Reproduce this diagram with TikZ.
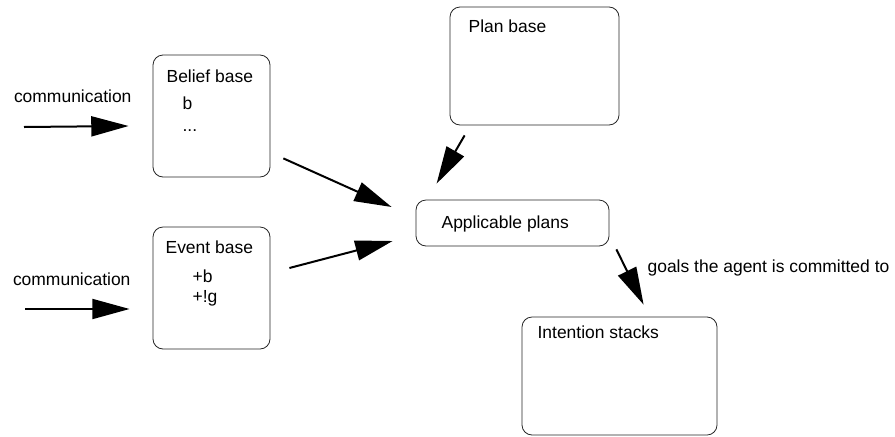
\documentclass[tikz,border=0pt]{standalone}
\usepackage{fontspec}
\setmainfont{Liberation Sans}
\usetikzlibrary{arrows.meta}
\tikzset{%
  >={Triangle[width=15pt,length=28pt]},
  % Specifications for style of nodes:
            base/.style = {rectangle, rounded corners=7.5pt, draw=black!85,
                           line width=0.6pt, inner sep=0pt},
           store/.style = {base},
           txt/.style = {anchor=base west, inner sep=0pt, outer sep=0pt,
                         font=\fontsize{13.1}{15}\selectfont},
           flow/.style = {->, line width=1.5pt},
}
\begin{document}
\begin{tikzpicture}[x=0.75pt, y=-0.75pt]
  \useasboundingbox (0,0) rectangle (895,436);
  % Specification of nodes (position, size)

  \node (belief)		[store, minimum width=87.75pt, minimum height=91.5pt] at (211.5,116) {};
  \node (event)			[store, minimum width=87.75pt, minimum height=91.5pt] at (211.5,288) {};
  \node (plan)			[store, minimum width=126.75pt, minimum height=88.5pt] at (534.5,66) {};
  \node (applic)		[store, minimum width=144.75pt, minimum height=34.5pt] at (512.5,223) {};
  \node (intention)		[store, minimum width=146.25pt, minimum height=88.5pt] at (619.5,376) {};

  % texts inside the boxes
  \node (belief t)		[txt] at ([shift={(14,28)}]belief.north west) {Belief base};
  \node (belief b)		[txt] at ([shift={(30,55)}]belief.north west) {b};
  \node (belief d)		[txt] at ([shift={(30,77)}]belief.north west) {...};
  \node (event t)		[txt] at ([shift={(13,27)}]event.north west) {Event base};
  \node (event b)		[txt] at ([shift={(40,56)}]event.north west) {+b};
  \node (event g)		[txt] at ([shift={(40,76)}]event.north west) {+!g};
  \node (plan t)		[txt] at ([shift={(19,26)}]plan.north west) {Plan base};
  \node (applic t)		[txt] at ([shift={(26,29)}]applic.north west) {Applicable plans};
  \node (intention t)	[txt] at ([shift={(16,22)}]intention.north west) {Intention stacks};

  % incoming communication
  \coordinate (in1)		at (24,127);
  \coordinate (in2)		at (25,309);
  \node (comm1)			[txt] at (14,102) {communication};
  \node (comm2)			[txt] at (13,285) {communication};

  \draw[flow]			(in1) -- ([shift={(-24,10)}]belief.west);
  \draw[flow]			(in2) -- ([shift={(-23,21)}]event.west);
  \draw[flow]			([shift={(13,-19)}]belief.south east) -- ([shift={(-24,-16)}]applic.west);
  \draw[flow]			([shift={(19,-20)}]event.east) -- ([shift={(-23,18)}]applic.west);
  \draw[flow]			([shift={(15,10)}]plan.south west) -- ([shift={(21,-16)}]applic.north west);
  \draw[flow]			([shift={(7,3)}]applic.south east) -- ([shift={(122,-12)}]intention.north west);
  \node (goals)			[txt] at ([shift={(126,-44)}]intention.north west) {goals the agent is committed to};
\end{tikzpicture}
\end{document}
